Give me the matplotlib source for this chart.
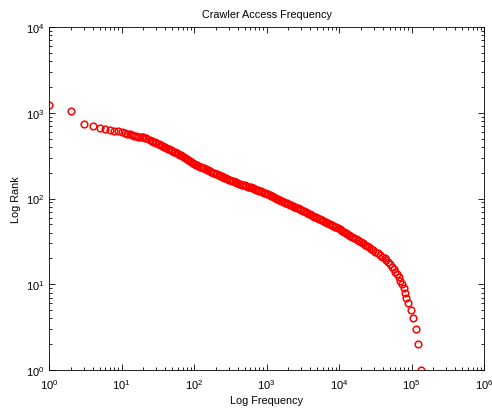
import matplotlib
matplotlib.use('Agg')
import matplotlib.pyplot as plt

plt.rcParams['font.family'] = ['Liberation Sans', 'DejaVu Sans']
plt.rcParams['mathtext.fontset'] = 'custom'
plt.rcParams['mathtext.rm'] = 'Liberation Sans'

# integer frequencies at the top-left (discrete points)
freq_low = [1, 2, 3, 4, 5, 6, 7, 8, 9, 10, 11, 12, 13, 14, 15, 16, 17, 18, 19, 20, 21, 22]
rank_low = [1242, 1057, 745, 695, 664, 646, 629, 618, 606, 597, 583, 572, 560, 548, 540,
            533, 527, 522, 518, 515, 512, 508]

# dense middle part of the curve
freq_mid = [25.1, 26.3, 27.5, 28.8, 30.2, 31.6, 33.1, 34.7, 36.3, 38.0, 39.8, 41.7, 43.7,
            45.7, 47.9, 50.1, 52.5, 55.0, 57.5, 60.3, 63.1, 66.1, 69.2, 72.4, 75.9, 79.4,
            83.2, 87.1, 91.2, 95.5, 100, 105, 110, 115, 120, 126, 132, 138, 145, 151, 158,
            166, 174, 182, 191, 200, 209, 219, 229, 240, 251, 263, 275, 288, 302, 316, 331,
            347, 363, 380, 398, 417, 437, 457, 479, 501, 525, 550, 575, 603, 631, 661, 692,
            724, 759, 794, 832, 871, 912, 955, 1000, 1050, 1100, 1150, 1200, 1260, 1320,
            1380, 1450, 1510, 1580, 1660, 1740, 1820, 1910, 2000, 2090, 2190, 2290, 2400,
            2510, 2630, 2750, 2880, 3020, 3160, 3310, 3470, 3630, 3800, 3980, 4170, 4370,
            4570, 4790, 5010, 5250, 5500, 5750, 6030, 6310, 6610, 6920, 7240, 7590, 7940,
            8320, 8710, 9120, 9550]
rank_mid = [481, 471, 462, 453, 445, 436, 428, 419, 411, 402, 394, 387, 380, 373, 366, 358,
            351, 344, 337, 330, 324, 319, 315, 306, 298, 288, 279, 272, 265, 259, 254, 249,
            244, 240, 236, 232, 229, 225, 221, 217, 213, 209, 205, 201, 197, 194, 191, 187,
            184, 181, 178, 175, 172, 169, 166, 163, 161, 158, 156, 154, 152, 149, 147, 145,
            144, 142, 140, 138, 137, 135, 133, 131, 129, 127, 125, 123, 121, 119, 117, 115,
            114, 112, 110, 108, 106, 104, 102, 100, 98, 96.5, 94.6, 92.8, 91.0, 89.2, 87.5,
            85.9, 84.3, 83.0, 81.7, 80.5, 79.3, 78.1, 76.9, 75.3, 73.8, 72.3, 70.8, 69.3,
            67.9, 66.6, 65.3, 64.0, 62.8, 61.6, 60.4, 59.3, 58.2, 57.1, 56.0, 54.9, 53.8,
            52.8, 51.8, 50.8, 49.8, 48.9, 48.0, 47.0, 46.0, 45.0]

# steep tail, ranks 44 down to 1
rank_high = list(range(44, 0, -1))
freq_high = [10200, 10600, 11100, 11700, 12300, 12900, 13600, 14300, 15100, 16000, 17000,
             18000, 19000, 20000, 21100, 22600, 24300, 25900, 27600, 29600, 31800, 34100,
             36800, 39700, 43100, 45200, 47400, 50500, 53000, 56500, 59200, 63100, 67300,
             70500, 74000, 77600, 81300, 85300, 90400, 97500, 105000, 114000, 124000, 135000]

freq = freq_low + freq_mid + freq_high
rank = rank_low + rank_mid + rank_high

fig = plt.figure(figsize=(4.92, 4.14), dpi=100)
ax = fig.add_axes([49 / 492, 43 / 414, 435 / 492, 343 / 414])

ax.loglog(freq, rank, 'o', markerfacecolor='none', markeredgecolor='red',
          markersize=4.8, markeredgewidth=1.1)

ax.set_xlim(1, 1e6)
ax.set_ylim(1, 1e4)
ax.set_title('Crawler Access Frequency', fontsize=7.8, pad=7)
ax.set_xlabel('Log Frequency', fontsize=7.8, labelpad=3)
ax.set_ylabel('Log Rank', fontsize=7.8, labelpad=3)

ax.tick_params(which='both', direction='in', top=True, right=True, labelsize=8)
ax.tick_params(axis='x', pad=5)
ax.tick_params(which='major', length=4, width=0.6)
ax.tick_params(which='minor', length=2, width=0.6)
for s in ax.spines.values():
    s.set_linewidth(0.6)

fig.savefig('out.png', dpi=100)
